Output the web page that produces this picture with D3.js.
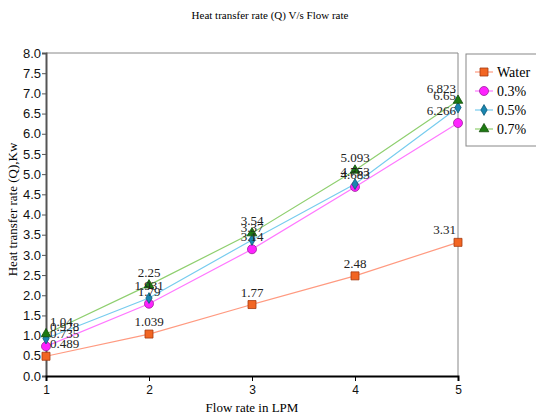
<!DOCTYPE html>
<html>
<head>
<meta charset="utf-8">
<script src="https://cdn.jsdelivr.net/npm/d3@7"></script>
<style>
  body { margin: 0; background: #fff; }
  svg { font-family: "Liberation Serif", "Times New Roman", serif; }
</style>
</head>
<body>
<svg id="chart" width="536" height="418"></svg>
<script>
const flowRates = [1, 2, 3, 4, 5];
const water = [0.489, 1.039, 1.77, 2.48, 3.31];
const conc03 = [0.735, 1.79, 3.14, 4.683, 6.266];
const conc05 = [0.928, 1.931, 3.37, 4.753, 6.65];
const conc07 = [1.04, 2.25, 3.54, 5.093, 6.823];
const seriesNames = ["Water", "0.3%", "0.5%", "0.7%"];
const yTicks = d3.range(0, 8.01, 0.5);

const series = [
  { name: seriesNames[0], values: water, line: "#ff9a80", fill: "#f26522", stroke: "#a33a10", shape: d3.symbolSquare, size: 64 },
  { name: seriesNames[1], values: conc03, line: "#ff77ff", fill: "#ff22ff", stroke: "#992299", shape: d3.symbolCircle, size: 64 },
  { name: seriesNames[2], values: conc05, line: "#77ccee", fill: "#1a86b0", stroke: "#0d5a78", shape: d3.symbolDiamond, size: 34 },
  { name: seriesNames[3], values: conc07, line: "#8fcf6f", fill: "#1d7a12", stroke: "#114d0a", shape: d3.symbolTriangle, size: 40 }
];

const margin = { top: 53, right: 78, bottom: 42, left: 46 };
const width = 536 - margin.left - margin.right;
const height = 418 - margin.top - margin.bottom;

const svg = d3.select("#chart");

svg.append("text")
  .attr("x", 270).attr("y", 19)
  .attr("text-anchor", "middle")
  .style("font-size", "11px")
  .text("Heat transfer rate (Q) V/s Flow rate");

const g = svg.append("g")
  .attr("transform", "translate(" + margin.left + "," + margin.top + ")");

const x = d3.scaleLinear().domain([1, 5]).range([0, width]);
const y = d3.scaleLinear().domain([0, 8]).range([height, 0]);

// plot frame (top and right)
g.append("path")
  .attr("d", `M0,0H${width}V${height}`)
  .attr("fill", "none")
  .attr("stroke", "#888")
  .attr("stroke-width", 1);

const yAxis = g.append("g")
  .call(d3.axisLeft(y).tickValues(yTicks).tickFormat(d3.format(".1f")).tickSize(4));
yAxis.select(".domain").attr("stroke", "#555").attr("stroke-width", 2);
yAxis.selectAll(".tick line").attr("stroke", "#555");
yAxis.selectAll("text").style("font-size", "13px").attr("x", -5).attr("fill", "#111");

const xAxis = g.append("g")
  .attr("transform", "translate(0," + height + ")")
  .call(d3.axisBottom(x).tickValues(flowRates).tickFormat(d3.format("d")).tickSize(5));
xAxis.select(".domain").attr("stroke", "#000").attr("stroke-width", 2);
xAxis.selectAll("text").style("font-size", "12px").attr("y", 9).attr("fill", "#111");

const line = d3.line()
  .x((d, i) => x(flowRates[i]))
  .y(d => y(d));

series.forEach(s => {
  g.append("path")
    .datum(s.values)
    .attr("fill", "none")
    .attr("stroke", s.line)
    .attr("stroke-width", 1.2)
    .attr("d", line);
});

series.forEach(s => {
  g.selectAll(null)
    .data(s.values)
    .enter()
    .append("path")
    .attr("transform", (d, i) => `translate(${x(flowRates[i])},${y(d)})`)
    .attr("d", d3.symbol().type(s.shape).size(s.size))
    .attr("fill", s.fill)
    .attr("stroke", s.stroke)
    .attr("stroke-width", 0.8);
});

series.forEach(s => {
  g.selectAll(null)
    .data(s.values)
    .enter()
    .append("text")
    .attr("x", (d, i) => x(flowRates[i]) + (i === 0 ? 4 : i === flowRates.length - 1 ? -2 : 0))
    .attr("y", d => y(d) - 8)
    .attr("text-anchor", (d, i) => i === 0 ? "start" : i === flowRates.length - 1 ? "end" : "middle")
    .style("font-size", "13px")
    .attr("fill", "#222")
    .text(d => d);
});

svg.append("text")
  .attr("transform", "translate(17," + (margin.top + height / 2 - 5) + ") rotate(-90)")
  .attr("text-anchor", "middle")
  .style("font-size", "13px")
  .text("Heat transfer rate (Q),Kw");

svg.append("text")
  .attr("x", 252).attr("y", 412)
  .attr("text-anchor", "middle")
  .style("font-size", "13px")
  .text("Flow rate in LPM");

// legend
const legend = svg.append("g").attr("transform", "translate(466,54)");
legend.append("rect")
  .attr("width", 90).attr("height", 92)
  .attr("fill", "#fff")
  .attr("stroke", "#888");

series.forEach((s, i) => {
  const row = legend.append("g").attr("transform", `translate(0,${18 + i * 19})`);
  row.append("line")
    .attr("x1", 9).attr("x2", 27)
    .attr("stroke", s.line).attr("stroke-width", 1.2);
  row.append("path")
    .attr("transform", "translate(18,0)")
    .attr("d", d3.symbol().type(s.shape).size(s.size))
    .attr("fill", s.fill)
    .attr("stroke", s.stroke)
    .attr("stroke-width", 0.8);
  row.append("text")
    .attr("x", 31).attr("y", 5)
    .style("font-size", "14px")
    .text(s.name);
});
</script>
</body>
</html>
